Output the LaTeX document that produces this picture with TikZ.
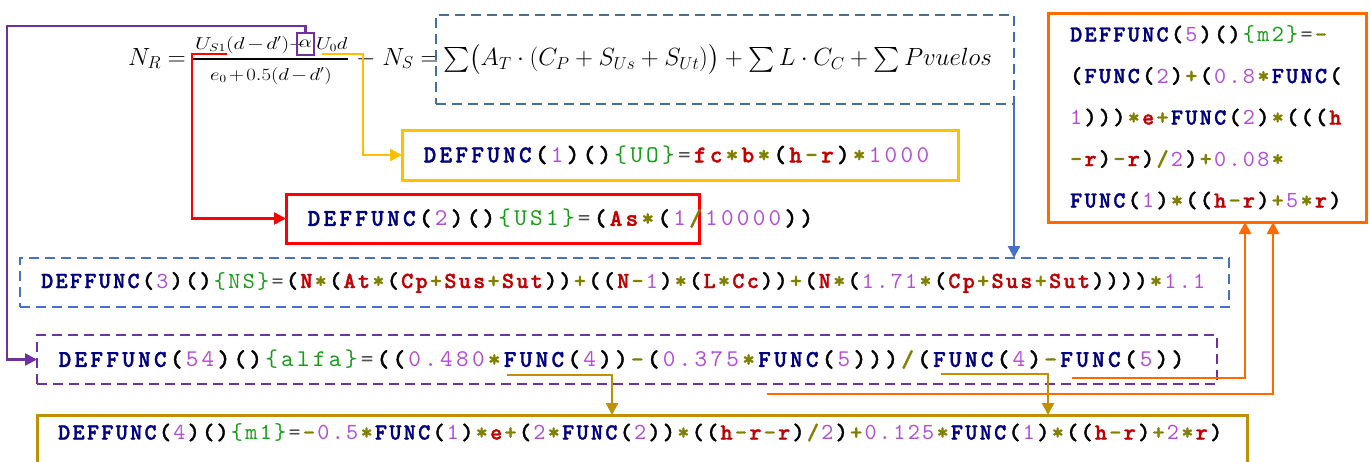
\documentclass[tikz,border=0pt]{standalone}
\usepackage{amsmath}
\usepackage{fontspec}
\usetikzlibrary{arrows.meta,calc}
\newfontfamily\codeF{lmmono10-regular.otf}[BoldFont=lmmonolt10-bold.otf, BoldFeatures={FakeBold=1.5}]
\newlength\codecw
\setlength\codecw{14.4pt}
\newcommand\chs[1]{\chsA#1\relax}
\def\chsA#1{\ifx#1\relax\else\makebox[\codecw][c]{#1}\expandafter\chsA\fi}
\definecolor{cnavy}{HTML}{000080}
\definecolor{cnum}{HTML}{B04FD6}
\definecolor{cgreen}{HTML}{1A9A1A}
\definecolor{cgray}{HTML}{505050}
\definecolor{colive}{HTML}{808000}
\definecolor{cvar}{HTML}{C00000}
\definecolor{cfbox}{HTML}{41719C}
\definecolor{cblue}{HTML}{4472C4}
\definecolor{cyel}{HTML}{FFC000}
\definecolor{cred}{HTML}{FF0000}
\definecolor{cpur}{HTML}{7030A0}
\definecolor{cgold}{HTML}{BF9000}
\definecolor{corange}{HTML}{FF6A00}
\newcommand\kw[1]{\textcolor{cnavy}{\bfseries\chs{#1}}}
\newcommand\pa[1]{{\bfseries\chs{#1}}}
\newcommand\nm[1]{\textcolor{cnum}{\mdseries\chs{#1}}}
\newcommand\vr[1]{\textcolor{cvar}{\bfseries\chs{#1}}}
\newcommand\op[1]{\textcolor{colive}{\bfseries\chs{#1}}}
\newcommand\gn[1]{\textcolor{cgreen}{\mdseries\chs{#1}}}
\newcommand\eqs{\textcolor{cgray}{\mdseries\chs{=}}}
\tikzset{
  codebox/.style={anchor=north west, outer sep=0pt, inner xsep=20pt, inner ysep=0pt, align=left},
  fa/.style={font=\codeF\fontsize{23}{26}\selectfont\setlength{\codecw}{14.4pt}},
  fb/.style={font=\codeF\fontsize{24}{27}\selectfont\setlength{\codecw}{15.9pt}},
  solidbox/.style={draw=#1, line width=3pt},
  dashbox/.style={draw=#1, line width=2.8pt, dash pattern=on 10pt off 6pt},
  conn/.style={draw=#1, line width=2.4pt, -{Triangle[length=12pt,width=12pt]}, fill=none},
  fml/.style={inner sep=0pt, outer sep=0pt},
  fsmall/.style={font=\fontsize{16}{19}\selectfont},
  fbig/.style={font=\fontsize{25}{30}\selectfont},
}
\begin{document}
\begin{tikzpicture}[x=1pt,y=-1pt]
\useasboundingbox (0,0) rectangle (1371,461);
% ---- formula
\node[fml, fbig, anchor=base west] (nr) at (128,65) {$N_R=$};
\node[fml, fsmall, anchor=base west] (num1) at (195,49) {\scalebox{1.25}[1]{$\medmuskip=2mu U_{S1}(d-d')+$}};
\node[fml, fsmall, draw=cpur, line width=1.3pt, minimum width=17pt, minimum height=22pt] (alpha) at (305.5,44) {\scalebox{1.2}[1]{$\alpha$}};
\node[fml, fsmall, anchor=base west] (num2) at (316,49) {\scalebox{1.2}[1]{$U_0d$}};
\node[fml, fsmall, anchor=base] (den) at (271,80) {\scalebox{1.2}[1]{$\medmuskip=2mu e_0+0.5(d-d')$}};
\draw[line width=1.4pt] (193,59) -- (348,59);
\node[fml, fbig, anchor=base west] (mid) at (356,65) {$-\;N_S=$};
\node[codebox, fbig, inner xsep=7pt, text width=564pt, minimum width=578pt, minimum height=89pt, dashbox=cfbox] (fbox) at (436,15)
  {$\sum\bigl(A_T\cdot(C_P+S_{Us}+S_{Ut})\bigr)+\sum L\cdot C_C+\sum Pvuelos$};
% ---- code boxes
\node[codebox, fb, solidbox=cyel, text width=516pt, minimum width=556pt, minimum height=50pt] (uo) at (402,130)
  {\kw{DEFFUNC}\pa{(}\nm{1}\pa{)()}\gn{\{UO\}}\eqs\vr{fc}\op{*}\vr{b}\op{*}\pa{(}\vr{h}\op{-}\vr{r}\pa{)}\op{*}\nm{1000}};
\node[codebox, fb, solidbox=cred, text width=373pt, minimum width=413pt, minimum height=49pt] (us1) at (286,194)
  {\kw{DEFFUNC}\pa{(}\nm{2}\pa{)()}\gn{\{US1\}}\eqs\pa{(}\vr{As}\op{*}\pa{(}\nm{1}\op{/}\nm{10000}\pa{))}};
\node[codebox, fa, dashbox=cblue, text width=1169pt, minimum width=1209pt, minimum height=49pt] (ns) at (20,258)
  {\kw{DEFFUNC}\pa{(}\nm{3}\pa{)()}\gn{\{NS\}}\eqs\pa{(}\vr{N}\op{*}\pa{(}\vr{At}\op{*}\pa{(}\vr{Cp}\op{+}\vr{Sus}\op{+}\vr{Sut}\pa{))}\op{+}\pa{((}\vr{N}\op{-}\nm{1}\pa{)}\op{*}\pa{(}\vr{L}\op{*}\vr{Cc}\pa{))}\op{+}\pa{(}\vr{N}\op{*}\pa{(}\nm{1.71}\op{*}\pa{(}\vr{Cp}\op{+}\vr{Sus}\op{+}\vr{Sut}\pa{))))}\op{*}\nm{1.1}};
\node[codebox, fb, dashbox=cpur, text width=1140pt, minimum width=1180pt, minimum height=49pt] (alfa) at (37,335)
  {\kw{DEFFUNC}\pa{(}\nm{54}\pa{)()}\gn{\{alfa\}}\eqs\pa{((}\nm{0.480}\op{*}\kw{FUNC}\pa{(}\nm{4}\pa{))}\op{-}\pa{(}\nm{0.375}\op{*}\kw{FUNC}\pa{(}\nm{5}\pa{)))}\op{/}\pa{(}\kw{FUNC}\pa{(}\nm{4}\pa{)}\op{-}\kw{FUNC}\pa{(}\nm{5}\pa{))}};
\node[codebox, fa, text width=1170pt, minimum width=1210pt, minimum height=35pt] (m1) at (37,415)
  {\kw{DEFFUNC}\pa{(}\nm{4}\pa{)()}\gn{\{m1\}}\eqs\op{-}\nm{0.5}\op{*}\kw{FUNC}\pa{(}\nm{1}\pa{)}\op{*}\vr{e}\op{+}\pa{(}\nm{2}\op{*}\kw{FUNC}\pa{(}\nm{2}\pa{))}\op{*}\pa{((}\vr{h}\op{-}\vr{r}\op{-}\vr{r}\pa{)}\op{/}\nm{2}\pa{)}\op{+}\nm{0.125}\op{*}\kw{FUNC}\pa{(}\nm{1}\pa{)}\op{*}\pa{((}\vr{h}\op{-}\vr{r}\pa{)}\op{+}\nm{2}\op{*}\vr{r}\pa{)}};
\draw[line width=3pt, cgold] ($(m1.south west)+(0,30)$) -- (m1.north west) -- (m1.north east) -- ($(m1.south east)+(0,30)$);
\node[codebox, font=\codeF\fontsize{23}{41.5}\selectfont\setlength{\codecw}{14.4pt}, inner xsep=21pt, solidbox=corange, text width=276pt, minimum width=318pt, minimum height=209pt] (m2) at (1048,13)
  {\kw{DEFFUNC}\pa{(}\nm{5}\pa{)()}\gn{\{m2\}}\eqs\op{-}\\
   \pa{(}\kw{FUNC}\pa{(}\nm{2}\pa{)}\op{+}\pa{(}\nm{0.8}\op{*}\kw{FUNC}\pa{(}\\
   \nm{1}\pa{)))}\op{*}\vr{e}\op{+}\kw{FUNC}\pa{(}\nm{2}\pa{)}\op{*}\pa{(((}\vr{h}\\
   \op{-}\vr{r}\pa{)}\op{-}\vr{r}\pa{)}\op{/}\nm{2}\pa{)}\op{+}\nm{0.08}\op{*}\\
   \kw{FUNC}\pa{(}\nm{1}\pa{)}\op{*}\pa{((}\vr{h}\op{-}\vr{r}\pa{)}\op{+}\nm{5}\op{*}\vr{r}\pa{)}};
% ---- connectors
\coordinate (p1) at (7,26);
\draw[conn=cpur] (alpha.north) |- (p1) |- (alfa.west);
\coordinate (r1) at (227,54); \coordinate (r2) at (192,54);
\draw[conn=cred] (r1) -- (r2) |- (us1.west);
\coordinate (y1) at (322,54); \coordinate (y2) at (363,54);
\draw[conn=cyel] (y1) -- (y2) |- (uo.west);
\draw[conn=cblue] (fbox.south east) -- (fbox.south east |- ns.north);
\coordinate (o1) at (1072,378); \coordinate (o2) at (1245,378);
\coordinate (o3) at (767,394); \coordinate (o4) at (1273,394);
\draw[conn=corange] (o1) -- (o2) -- (o2 |- m2.south);
\draw[conn=corange] (o3) -- (o4) -- (o4 |- m2.south);
\coordinate (g1) at (507,375); \coordinate (g2) at (612,375);
\coordinate (g3) at (941,374); \coordinate (g4) at (1048,374);
\draw[conn=cgold] (g1) -- (g2) -- (g2 |- m1.north);
\draw[conn=cgold] (g3) -- (g4) -- (g4 |- m1.north);
\end{tikzpicture}
\end{document}
